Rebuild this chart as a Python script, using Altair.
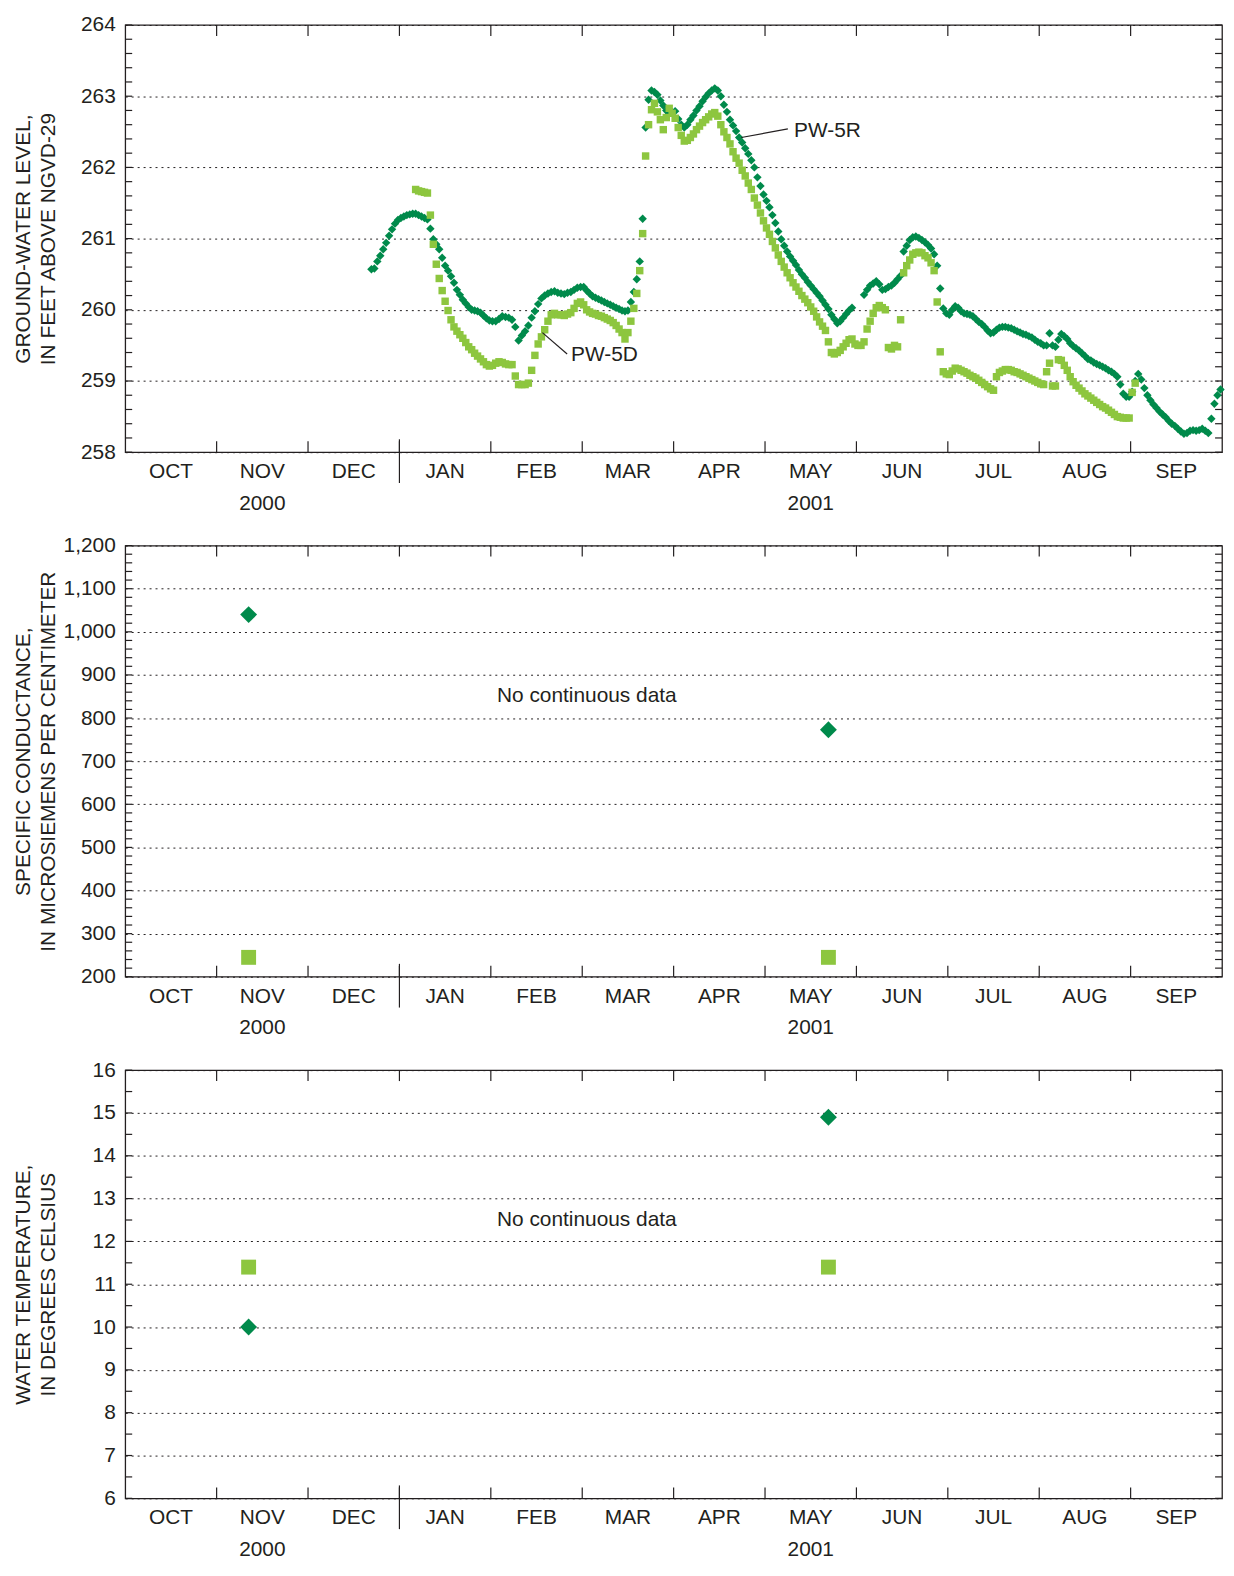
import altair as alt
import pandas as pd
import numpy as np

FONT = "Liberation Sans"
INK = "#231f20"
DARK = "#008a4b"
LIGHT = "#8dc63f"

MONTHS = ["OCT", "NOV", "DEC", "JAN", "FEB", "MAR", "APR", "MAY", "JUN", "JUL", "AUG", "SEP"]
DAYS_IN_MONTH = [31, 30, 31, 31, 28, 31, 30, 31, 30, 31, 31, 30]
YEARS = ["2000", "2001"]
YEAR_POS = [1.5, 7.5]

# daily ground-water level, feet above NGVD-29 (month index 0 = Oct 2000)
# PW-5R
r_dec = [260.57, 260.58, 260.68, 260.76, 260.85, 260.94, 261.04, 261.13, 261.21, 261.26]  # from Dec 22
r_jan = [261.29, 261.31, 261.33, 261.34, 261.35, 261.35, 261.33, 261.31, 261.29, 261.27, 261.14,
         260.99, 260.92, 260.85, 260.73, 260.62, 260.55, 260.47, 260.38, 260.28, 260.21, 260.14,
         260.09, 260.04, 260.00, 259.99, 259.98, 259.96, 259.92, 259.88, 259.85]
r_feb = [259.84, 259.84, 259.87, 259.91, 259.90, 259.89, 259.86, 259.76, 259.57, 259.64, 259.70,
         259.78, 259.89, 259.98, 260.08, 260.16, 260.20, 260.23, 260.25, 260.26, 260.24, 260.23,
         260.22, 260.24, 260.25, 260.28, 260.31, 260.32]
r_mar = [260.32, 260.27, 260.23, 260.19, 260.17, 260.15, 260.13, 260.11, 260.09, 260.07, 260.05,
         260.03, 260.01, 259.99, 259.98, 259.99, 260.11, 260.25, 260.43, 260.68, 261.28, 262.56,
         262.95, 263.08, 263.06, 263.02, 262.94, 262.87, 262.80, 262.76, 262.78]
r_apr = [262.79, 262.68, 262.60, 262.56, 262.60, 262.67, 262.73, 262.80, 262.86, 262.93, 262.99,
         263.04, 263.08, 263.11, 263.08, 263.00, 262.88, 262.78, 262.67, 262.59, 262.51, 262.42,
         262.35, 262.27, 262.19, 262.10, 262.00, 261.86, 261.74, 261.62]
r_may = [261.53, 261.44, 261.33, 261.22, 261.10, 260.99, 260.90, 260.82, 260.75, 260.69, 260.63,
         260.56, 260.50, 260.45, 260.39, 260.34, 260.29, 260.24, 260.19, 260.13, 260.07, 260.01,
         259.93, 259.87, 259.81, 259.84, 259.89, 259.94, 259.99, 260.03, None]
r_jun = [None, None, 260.21, 260.28, 260.34, 260.37, 260.40, 260.36, 260.28, 260.29, 260.32,
         260.34, 260.38, 260.43, 260.48, 260.82, 260.90, 260.98, 261.02, 261.03, 261.01, 260.98,
         260.95, 260.91, 260.86, 260.78, 260.62, 260.30, 260.02, 259.95]
r_jul = [259.93, 260.00, 260.05, 260.03, 259.98, 259.95, 259.94, 259.93, 259.91, 259.87, 259.83,
         259.80, 259.76, 259.71, 259.67, 259.68, 259.72, 259.75, 259.76, 259.76, 259.75, 259.74,
         259.72, 259.70, 259.68, 259.66, 259.65, 259.63, 259.61, 259.58, 259.55]
r_aug = [259.53, 259.50, 259.50, 259.67, 259.50, 259.48, 259.58, 259.66, 259.63, 259.59, 259.53,
         259.49, 259.46, 259.43, 259.39, 259.35, 259.31, 259.29, 259.26, 259.24, 259.22, 259.20,
         259.18, 259.15, 259.13, 259.10, 259.06, 258.95, 258.82, 258.78, 258.78]
r_sep = [258.85, 259.00, 259.10, 259.02, 258.90, 258.80, 258.73, 258.67, 258.62, 258.57, 258.53,
         258.49, 258.44, 258.40, 258.37, 258.33, 258.29, 258.26, 258.27, 258.30, 258.31, 258.30,
         258.31, 258.33, 258.30, 258.27, 258.47, 258.68, 258.80, 258.88]

# PW-5D
d_jan = [261.69, 261.67, 261.66, 261.65, 261.64, 261.33, 260.92, 260.64, 260.44, 260.27, 260.12,
         259.99, 259.86, 259.76, 259.70, 259.65, 259.60, 259.54, 259.48, 259.44, 259.39, 259.35,
         259.31, 259.27, 259.23, 259.21]  # from Jan 6
d_feb = [259.22, 259.25, 259.27, 259.26, 259.24, 259.23, 259.23, 259.07, 258.95, 258.95, 258.95,
         258.97, 259.15, 259.36, 259.52, 259.62, 259.72, 259.84, 259.93, 259.95, 259.93, 259.93,
         259.92, 259.94, 259.96, 260.02, 260.09, 260.11]
d_mar = [260.07, 260.00, 259.97, 259.95, 259.94, 259.92, 259.91, 259.89, 259.87, 259.85, 259.82,
         259.78, 259.73, 259.68, 259.59, 259.68, 259.84, 260.02, 260.23, 260.55, 261.07, 262.16,
         262.60, 262.81, 262.90, 262.78, 262.67, 262.53, 262.70, 262.83, 262.76]
d_apr = [262.69, 262.56, 262.45, 262.37, 262.38, 262.42, 262.47, 262.53, 262.58, 262.63, 262.67,
         262.71, 262.75, 262.77, 262.72, 262.60, 262.50, 262.42, 262.33, 262.22, 262.13, 262.06,
         261.96, 261.88, 261.78, 261.69, 261.57, 261.47, 261.36, 261.25]
d_may = [261.15, 261.06, 260.96, 260.87, 260.77, 260.68, 260.60, 260.52, 260.45, 260.38, 260.32,
         260.26, 260.20, 260.15, 260.10, 260.04, 259.98, 259.90, 259.83, 259.77, 259.71, 259.55,
         259.40, 259.38, 259.40, 259.43, 259.48, 259.53, 259.58, 259.59, 259.52]
d_jun = [259.50, 259.50, 259.55, 259.73, 259.84, 259.95, 260.03, 260.06, 260.03, 260.00, 259.47,
         259.45, 259.50, 259.48, 259.86, 260.52, 260.62, 260.70, 260.78, 260.80, 260.81, 260.80,
         260.76, 260.73, 260.66, 260.55, 260.11, 259.41, 259.13, 259.10]
d_jul = [259.09, 259.14, 259.18, 259.17, 259.15, 259.13, 259.11, 259.08, 259.06, 259.04, 259.01,
         258.98, 258.95, 258.92, 258.89, 258.87, 259.06, 259.12, 259.14, 259.16, 259.16, 259.15,
         259.13, 259.12, 259.10, 259.08, 259.06, 259.04, 259.02, 259.00, 258.98]
d_aug = [258.96, 258.95, 259.13, 259.25, 258.93, 258.93, 259.30, 259.29, 259.22, 259.15, 259.06,
         258.99, 258.94, 258.90, 258.86, 258.82, 258.79, 258.76, 258.73, 258.70, 258.67, 258.64,
         258.62, 258.59, 258.56, 258.53, 258.50, 258.49, 258.48, 258.48, 258.48]
d_sep = [258.84, 258.97]

# (month index, first day, values)
pw5r_level = [(2, 22, r_dec), (3, 1, r_jan), (4, 1, r_feb), (5, 1, r_mar), (6, 1, r_apr),
              (7, 1, r_may), (8, 1, r_jun), (9, 1, r_jul), (10, 1, r_aug), (11, 1, r_sep)]
pw5d_level = [(3, 6, d_jan), (4, 1, d_feb), (5, 1, d_mar), (6, 1, d_apr), (7, 1, d_may),
              (8, 1, d_jun), (9, 1, d_jul), (10, 1, d_aug), (11, 1, d_sep)]

# discrete samples: (month index, day)
sample_dates = [(1, 11), (7, 22)]
pw5r_cond = [1040, 773]
pw5d_cond = [245, 245]
pw5r_temp = [10.0, 14.9]
pw5d_temp = [11.4, 11.4]


def pos(k, d):
    return k + (d - 0.5) / DAYS_IN_MONTH[k]


def daily(parts):
    rows = []
    for k, d0, vals in parts:
        for i, v in enumerate(vals):
            if v is not None:
                rows.append({"pos": pos(k, d0 + i), "v": v})
    return pd.DataFrame(rows)


def samples(vals):
    return pd.DataFrame({"pos": [pos(k, d) for k, d in sample_dates], "v": vals})


W = 1104
XS = alt.Scale(domain=[0, 12], nice=False, zero=False)


def panel(H, lo, hi, major, minor, title, point_layers, notes):
    ys = alt.Scale(domain=[lo, hi], nice=False, zero=False)
    yax = alt.Axis(
        values=major, title=title, grid=True, gridDash=[2, 4], gridColor=INK,
        gridWidth=1, ticks=False, domain=False, labelPadding=10,
        titleX=-102, titleY=H / 2, titleAngle=270, titleBaseline="middle",
        titleAlign="center", titleLineHeight=25, format=",d")

    def Y(field):
        return alt.Y(field, scale=ys, axis=yax)

    def X(field):
        return alt.X(field, scale=XS, axis=None)

    ticks = pd.DataFrame({"t": np.round(np.arange(lo, hi + minor / 2, minor), 3)})
    bounds = pd.DataFrame({"m": list(range(1, 12))})
    months = pd.DataFrame({"m": [i + 0.5 for i in range(12)], "name": MONTHS})
    years = pd.DataFrame({"m": YEAR_POS, "name": YEARS})

    left = alt.Chart(ticks).mark_rule(color=INK, strokeWidth=1.2).encode(
        y=Y("t:Q"), x=alt.value(0), x2=alt.value(7))
    right = alt.Chart(ticks).mark_rule(color=INK, strokeWidth=1.2).encode(
        y=Y("t:Q"), x=alt.value(W - 7), x2=alt.value(W))
    bottom = alt.Chart(bounds).mark_rule(color=INK, strokeWidth=1.2).encode(
        x=X("m:Q"), y=alt.value(H - 11), y2=alt.value(H))
    top = alt.Chart(bounds).mark_rule(color=INK, strokeWidth=1.2).encode(
        x=X("m:Q"), y=alt.value(0), y2=alt.value(11))
    jan = alt.Chart(pd.DataFrame({"m": [3]})).mark_rule(color=INK, strokeWidth=1.2).encode(
        x=X("m:Q"), y=alt.value(H - 13), y2=alt.value(H + 31))
    mlab = alt.Chart(months).mark_text(font=FONT, fontSize=21, color=INK, baseline="middle").encode(
        x=X("m:Q"), y=alt.value(H + 20), text="name:N")
    ylab = alt.Chart(years).mark_text(font=FONT, fontSize=21, color=INK, baseline="middle").encode(
        x=X("m:Q"), y=alt.value(H + 52), text="name:N")

    layers = [left, right, bottom, top, jan, mlab, ylab]
    for df, shape, size, color in point_layers:
        layers.append(alt.Chart(df).mark_point(shape=shape, size=size, filled=True,
                                               color=color, opacity=1).encode(
            x=X("pos:Q"), y=Y("v:Q")))
    for kind, df in notes:
        if kind in ("text", "ctext"):
            layers.append(alt.Chart(df).mark_text(
                font=FONT, fontSize=21, color=INK, baseline="middle",
                align="left" if kind == "text" else "center").encode(
                x=X("x:Q"), y=Y("y:Q"), text="label:N"))
        else:
            layers.append(alt.Chart(df).mark_rule(color=INK, strokeWidth=1.2).encode(
                x=X("x:Q"), y=Y("y:Q"), x2="x2:Q", y2="y2:Q"))
    return alt.layer(*layers).properties(width=W, height=H)


p1 = panel(
    430, 258, 264, list(range(258, 265)), 0.2,
    ["GROUND-WATER LEVEL,", "IN FEET ABOVE NGVD-29"],
    [(daily(pw5r_level), "diamond", 72, DARK), (daily(pw5d_level), "square", 56, LIGHT)],
    [("text", pd.DataFrame({"x": [7.317, 4.878], "y": [262.51, 259.36], "label": ["PW-5R", "PW-5D"]})),
     ("rule", pd.DataFrame({"x": [6.74, 4.564], "x2": [7.25, 4.835],
                            "y": [262.42, 259.68], "y2": [262.54, 259.38]}))])

p2 = panel(
    434, 200, 1200, list(range(200, 1201, 100)), 20,
    ["SPECIFIC CONDUCTANCE,", "IN MICROSIEMENS PER CENTIMETER"],
    [(samples(pw5r_cond), "diamond", 289, DARK), (samples(pw5d_cond), "square", 225, LIGHT)],
    [("ctext", pd.DataFrame({"x": [5.05], "y": [850], "label": ["No continuous data"]}))])

p3 = panel(
    431, 6, 16, list(range(6, 17)), 0.5,
    ["WATER TEMPERATURE,", "IN DEGREES CELSIUS"],
    [(samples(pw5r_temp), "diamond", 289, DARK), (samples(pw5d_temp), "square", 225, LIGHT)],
    [("ctext", pd.DataFrame({"x": [5.05], "y": [12.5], "label": ["No continuous data"]}))])

chart = alt.vconcat(p1, p2, p3, spacing=19).configure(
    padding={"left": 4, "top": 0, "right": 0, "bottom": 0}
).configure_view(
    stroke=INK, strokeWidth=1.3
).configure_axis(
    labelFont=FONT, labelFontSize=21, labelColor=INK,
    titleFont=FONT, titleFontSize=21, titleColor=INK, titleFontWeight="normal"
)

chart.save("out.html", embed_options={"renderer": "svg", "actions": False})
